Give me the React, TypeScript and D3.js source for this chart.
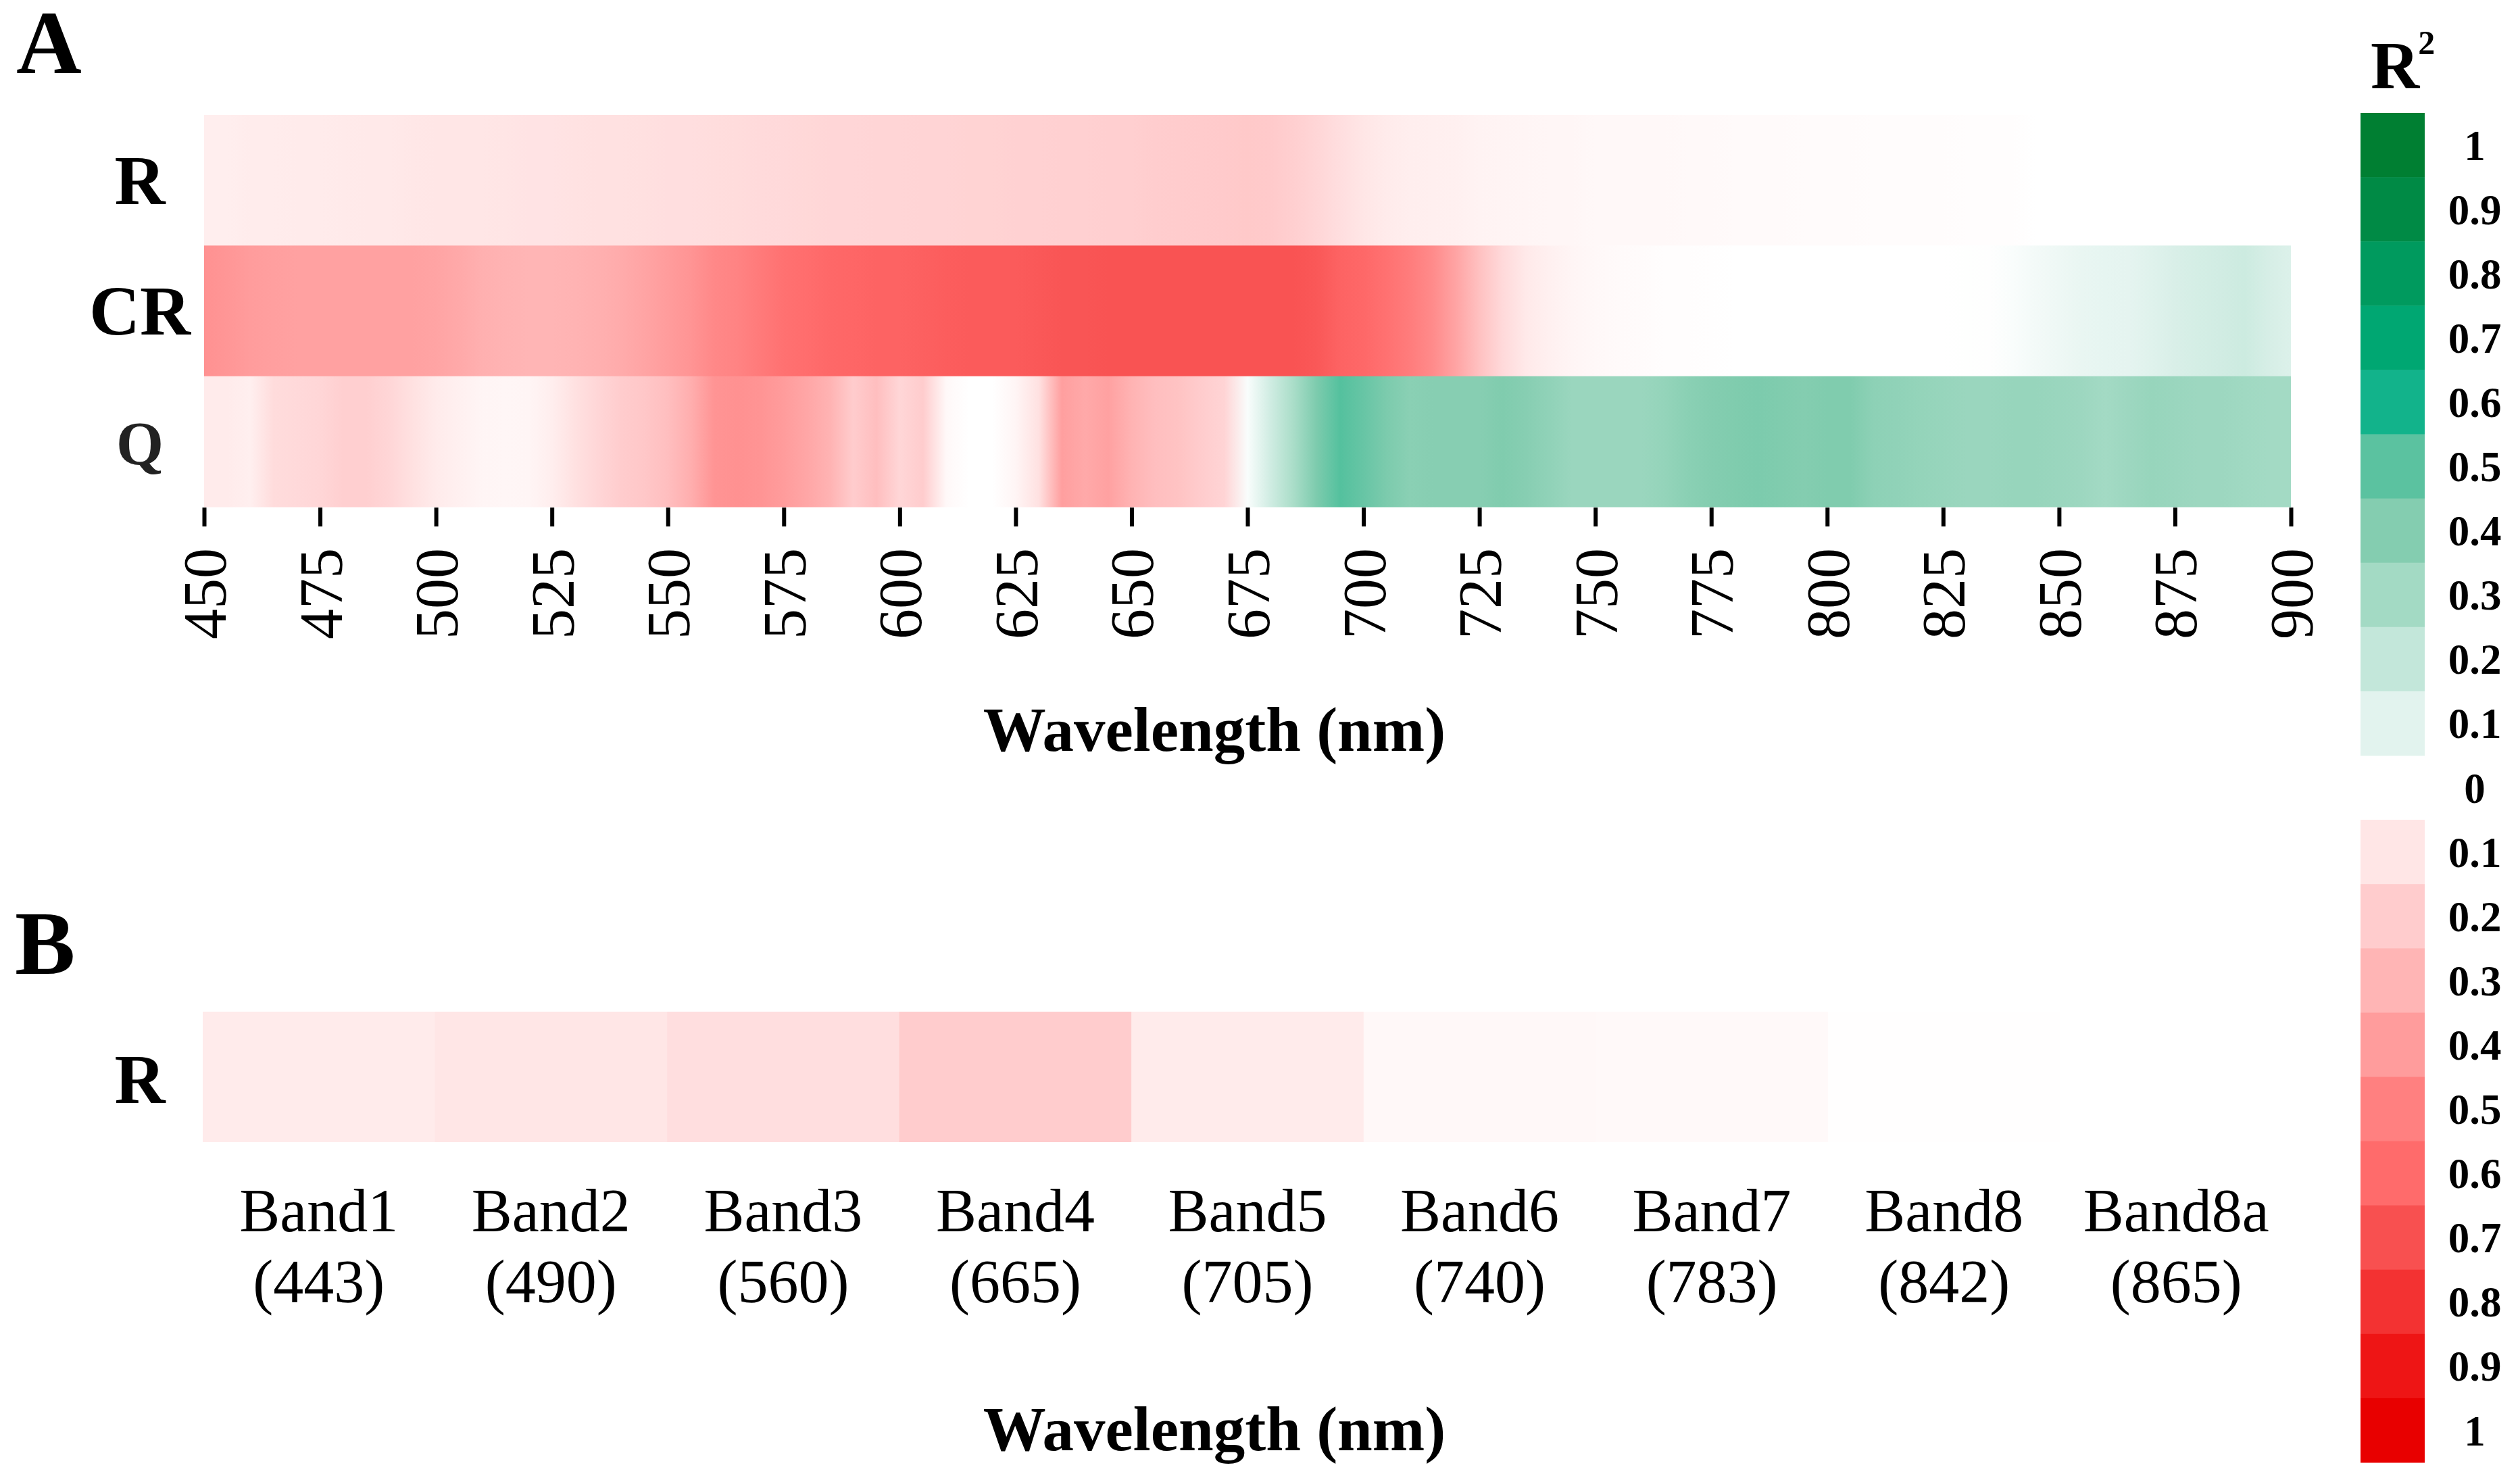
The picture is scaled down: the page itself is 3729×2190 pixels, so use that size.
import * as d3 from 'd3';
import React, { useRef, useEffect } from 'react';

// wavelength grid of panel A (nm), one sample per entry
const wavelengths = d3.range(450, 901, 5);
const rowNames = ['R', 'CR', 'Q'];

// signed R2: negative = red side, positive = green side
const rValues = [
  -0.07, -0.07, -0.075, -0.075, -0.08, -0.08, -0.085, -0.09, -0.09, -0.095,
  -0.1, -0.1, -0.1, -0.105, -0.11, -0.11, -0.115, -0.12, -0.12, -0.125,
  -0.13, -0.13, -0.135, -0.14, -0.145, -0.15, -0.155, -0.16, -0.16, -0.165,
  -0.165, -0.17, -0.17, -0.175, -0.175, -0.18, -0.18, -0.185, -0.185, -0.19,
  -0.19, -0.195, -0.2, -0.205, -0.21, -0.215, -0.21, -0.19, -0.16, -0.13,
  -0.1, -0.08, -0.07, -0.065, -0.06, -0.05, -0.045, -0.04, -0.035, -0.035,
  -0.03, -0.03, -0.03, -0.028, -0.025, -0.025, -0.022, -0.02, -0.02, -0.018,
  -0.016, -0.015, -0.014, -0.013, -0.012, -0.011, -0.01, -0.009, -0.008, 0,
  0, 0, 0, 0, 0, 0, 0, 0, 0, 0, 0
];
const crValues = [
  -0.44, -0.42, -0.4, -0.39, -0.38, -0.38, -0.38, -0.38, -0.38, -0.38,
  -0.37, -0.35, -0.32, -0.31, -0.3, -0.3, -0.31, -0.32, -0.34, -0.37,
  -0.4, -0.43, -0.47, -0.49, -0.53, -0.57, -0.59, -0.61, -0.62, -0.63,
  -0.63, -0.64, -0.65, -0.66, -0.66, -0.66, -0.67, -0.68, -0.68, -0.69,
  -0.69, -0.69, -0.69, -0.69, -0.69, -0.69, -0.69, -0.69, -0.67, -0.63,
  -0.61, -0.57, -0.52, -0.46, -0.37, -0.25, -0.15, -0.09, -0.06, -0.04,
  -0.03, -0.02, -0.015, -0.01, -0.008, -0.005, 0, 0, 0, 0,
  0, 0, 0, 0, 0, 0, 0.003, 0.005, 0.02, 0.04,
  0.06, 0.075, 0.085, 0.09, 0.11, 0.13, 0.145, 0.155, 0.17, 0.14, 0.12
];
const qValues = [
  -0.08, -0.08, -0.065, -0.14, -0.15, -0.16, -0.19, -0.19, -0.16, -0.12,
  -0.08, -0.06, -0.04, -0.035, -0.04, -0.07, -0.12, -0.16, -0.2, -0.22,
  -0.26, -0.33, -0.43, -0.44, -0.43, -0.4, -0.36, -0.31, -0.2, -0.26,
  -0.16, -0.2, -0.03, 0, 0, -0.04, -0.12, -0.39, -0.35, -0.38,
  -0.31, -0.26, -0.24, -0.2, -0.17, 0.02, 0.16, 0.28, 0.42, 0.51,
  0.47, 0.42, 0.38, 0.39, 0.39, 0.39, 0.41, 0.39, 0.36, 0.33,
  0.33, 0.33, 0.33, 0.35, 0.38, 0.4, 0.41, 0.42, 0.41, 0.4,
  0.41, 0.41, 0.37, 0.36, 0.35, 0.34, 0.33, 0.33, 0.34, 0.34,
  0.33, 0.32, 0.3, 0.32, 0.34, 0.33, 0.32, 0.32, 0.31, 0.3, 0.3
];

// panel B: Sentinel-2 bands
const bandNames = ['Band1', 'Band2', 'Band3', 'Band4', 'Band5', 'Band6', 'Band7', 'Band8', 'Band8a'];
const bandCenters = ['(443)', '(490)', '(560)', '(665)', '(705)', '(740)', '(783)', '(842)', '(865)'];
const bandValues = [-0.08, -0.1, -0.13, -0.2, -0.08, -0.03, -0.025, -0.005, 0];

const axisTicks = d3.range(450, 901, 25);

// legend entries, top to bottom
const legendValues = [1, 0.9, 0.8, 0.7, 0.6, 0.5, 0.4, 0.3, 0.2, 0.1, 0, -0.1, -0.2, -0.3, -0.4, -0.5, -0.6, -0.7, -0.8, -0.9, -1];
const legendLabels = ['1', '0.9', '0.8', '0.7', '0.6', '0.5', '0.4', '0.3', '0.2', '0.1', '0', '0.1', '0.2', '0.3', '0.4', '0.5', '0.6', '0.7', '0.8', '0.9', '1'];
// colours for 0.1 ... 1
const greenColors = ['#e2f3ee', '#c3e7da', '#a3dac4', '#84cdb0', '#5bc2a0', '#12b38b', '#00a772', '#009a5e', '#008a45', '#007f32'];
const redColors = ['#ffe6e6', '#ffcccd', '#ffb5b5', '#ff9c9c', '#ff8080', '#ff6b6b', '#f85050', '#f33232', '#ee1515', '#e80000'];

const W = 3729;
const H = 2190;
const FONT = '"Liberation Serif", "Times New Roman", serif';

function Heatmap() {
  const ref = useRef(null);

  useEffect(() => {
    const svg = d3.select(ref.current);
    svg.selectAll('*').remove();

    const color = d3.scaleLinear<string>()
      .domain([-1, -0.9, -0.8, -0.7, -0.6, -0.5, -0.4, -0.3, -0.2, -0.1, 0, 0.1, 0.2, 0.3, 0.4, 0.5, 0.6, 0.7, 0.8, 0.9, 1])
      .range([...redColors.slice().reverse(), '#ffffff', ...greenColors])
      .interpolate(d3.interpolateRgb)
      .clamp(true);

    const x = d3.scaleLinear().domain([450, 900]).range([302, 3390]);
    const y = d3.scaleBand().domain(rowNames).range([170, 750]);
    const rows = [rValues, crValues, qValues];

    // panel A: each row is a strip shaded along wavelength
    const defs = svg.append('defs');
    rows.forEach((vals, ri) => {
      const grad = defs.append('linearGradient')
        .attr('id', 'row-grad-' + ri)
        .attr('gradientUnits', 'userSpaceOnUse')
        .attr('x1', x(450)).attr('x2', x(900))
        .attr('y1', 0).attr('y2', 0);
      grad.selectAll('stop')
        .data(wavelengths)
        .enter()
        .append('stop')
        .attr('offset', d => (x(d) - x(450)) / (x(900) - x(450)))
        .attr('stop-color', (d, i) => color(vals[i]));
    });
    svg.append('g').selectAll('rect')
      .data(rowNames)
      .enter()
      .append('rect')
      .attr('x', x(450))
      .attr('y', d => y(d))
      .attr('width', x(900) - x(450))
      .attr('height', y.bandwidth() + 0.5)
      .attr('fill', (d, i) => 'url(#row-grad-' + i + ')');

    // row labels
    svg.append('g').selectAll('text')
      .data(rowNames)
      .enter()
      .append('text')
      .attr('x', 207)
      .attr('y', d => y(d) + y.bandwidth() / 2 + (d === 'Q' ? 34 : 35))
      .attr('text-anchor', 'middle')
      .attr('font-family', FONT)
      .attr('font-weight', 'bold')
      .attr('font-size', d => (d === 'Q' ? 90 : 104))
      .attr('fill', d => (d === 'Q' ? '#222' : '#000'))
      .text(d => d);

    // wavelength axis
    const axis = svg.append('g')
      .attr('transform', 'translate(0,751)')
      .call(d3.axisBottom(x).tickValues(axisTicks).tickSize(28).tickFormat(d3.format('d')));
    axis.select('.domain').remove();
    axis.selectAll('.tick line').attr('stroke', '#000').attr('stroke-width', 6);
    axis.selectAll('.tick text')
      .attr('font-family', FONT)
      .attr('font-size', 90)
      .attr('fill', '#000')
      .attr('text-anchor', 'end')
      .attr('transform', 'translate(0,60) rotate(-90)')
      .attr('x', 0)
      .attr('y', 0)
      .attr('dy', '0.35em');

    const title = (tx, ty, t) => svg.append('text')
      .attr('x', tx).attr('y', ty)
      .attr('text-anchor', 'middle')
      .attr('font-family', FONT)
      .attr('font-weight', 'bold')
      .attr('font-size', 93)
      .text(t);
    title(1797, 1111, 'Wavelength (nm)');
    title(1797, 2146, 'Wavelength (nm)');

    const letter = (tx, ty, t) => svg.append('text')
      .attr('x', tx).attr('y', ty)
      .attr('font-family', FONT)
      .attr('font-weight', 'bold')
      .attr('font-size', 134)
      .text(t);
    letter(24, 108, 'A');
    letter(22, 1441, 'B');

    // panel B
    const xb = d3.scaleBand().domain(bandNames).range([300, 3392]);
    const yb = d3.scaleBand().domain(['R']).range([1497, 1690]);
    svg.append('g').selectAll('rect')
      .data(bandNames)
      .enter()
      .append('rect')
      .attr('x', d => xb(d))
      .attr('y', yb('R'))
      .attr('width', xb.bandwidth() + 0.5)
      .attr('height', yb.bandwidth())
      .attr('fill', (d, i) => color(bandValues[i]));

    svg.append('text')
      .attr('x', 207)
      .attr('y', yb('R') + yb.bandwidth() / 2 + 38)
      .attr('text-anchor', 'middle')
      .attr('font-family', FONT)
      .attr('font-weight', 'bold')
      .attr('font-size', 104)
      .text('R');

    const bandLabels = svg.append('g').selectAll('text')
      .data(bandNames)
      .enter()
      .append('text')
      .attr('text-anchor', 'middle')
      .attr('font-family', FONT)
      .attr('font-size', 90);
    bandLabels.append('tspan')
      .attr('x', d => xb(d) + xb.bandwidth() / 2)
      .attr('y', 1822)
      .text(d => d);
    bandLabels.append('tspan')
      .attr('x', d => xb(d) + xb.bandwidth() / 2)
      .attr('y', 1927)
      .text((d, i) => bandCenters[i]);

    // colour legend
    const yl = d3.scaleBand().domain(legendValues.map(String)).range([167, 2164]);
    const leg = svg.append('g');
    leg.selectAll('rect')
      .data(legendValues.filter(v => v !== 0))
      .enter()
      .append('rect')
      .attr('x', 3493)
      .attr('y', d => yl(String(d)))
      .attr('width', 95)
      .attr('height', yl.bandwidth() + 0.5)
      .attr('fill', d => color(d));
    leg.selectAll('text')
      .data(legendValues)
      .enter()
      .append('text')
      .attr('x', 3662)
      .attr('y', d => yl(String(d)) + yl.bandwidth() / 2)
      .attr('dy', '0.35em')
      .attr('text-anchor', 'middle')
      .attr('font-family', FONT)
      .attr('font-weight', 'bold')
      .attr('font-size', 63)
      .text((d, i) => legendLabels[i]);

    const r2 = svg.append('text')
      .attr('x', 3508)
      .attr('y', 130)
      .attr('font-family', FONT)
      .attr('font-weight', 'bold')
      .attr('font-size', 100);
    r2.append('tspan').text('R');
    r2.append('tspan').attr('font-size', 50).attr('dx', -2).attr('dy', -50).text('2');
  });

  return (
    <svg ref={ref} width={W} height={H}
      style={{ position: 'absolute', left: 0, top: 0, background: '#fff', display: 'block' }} />
  );
}

export default function App() {
  return (
    <div style={{ width: W, height: H, position: 'absolute', left: 0, top: 0 }}>
      <Heatmap />
    </div>
  );
}
